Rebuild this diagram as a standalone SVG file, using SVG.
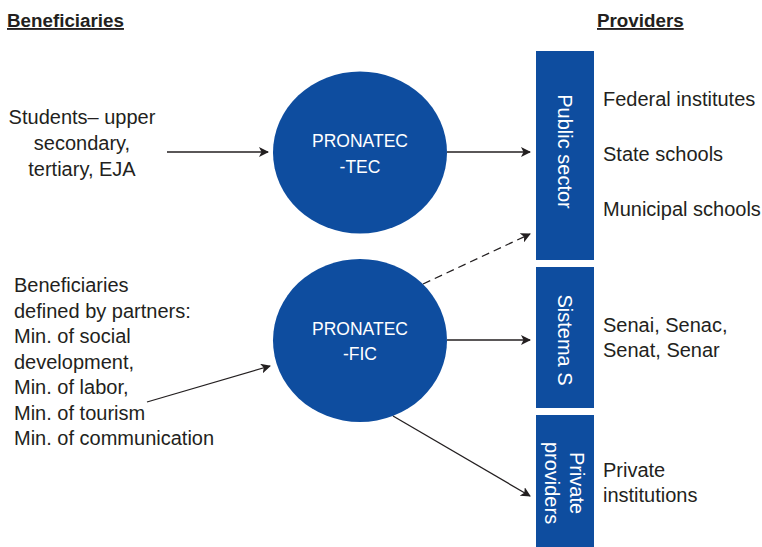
<svg xmlns="http://www.w3.org/2000/svg" width="762" height="547" viewBox="0 0 762 547">
<defs>
<style>
text{font-family:"Liberation Sans",Arial,sans-serif;font-size:20px;fill:#231f20}
.hd{font-weight:bold;text-decoration:underline;font-size:18.8px}
.w{fill:#ffffff}
.cl{font-size:17.5px}
.c{text-anchor:middle}
.node{fill:#0e4d9f}
.ln{stroke:#231f20;stroke-width:1.3;fill:none}
.dash{stroke-dasharray:8,5}
</style>
<marker id="ah" viewBox="0 0 10 10" refX="9" refY="5" markerWidth="10" markerHeight="10" markerUnits="userSpaceOnUse" orient="auto">
<path d="M0,0 L10,5 L0,10 L2.5,5 Z" fill="#231f20"/>
</marker>
</defs>
<rect width="762" height="547" fill="#ffffff"/>
<text class="hd" x="7" y="27">Beneficiaries</text>
<text class="hd" x="597" y="27">Providers</text>
<g id="students">
<text class="c" x="82" y="124">Students– upper</text>
<text class="c" x="82" y="150">secondary,</text>
<text class="c" x="82" y="176">tertiary, EJA</text>
</g>
<g id="partners">
<text x="14" y="292">Beneficiaries</text>
<text x="14" y="317.5">defined by partners:</text>
<text x="14" y="343">Min. of social</text>
<text x="14" y="368.5">development,</text>
<text x="14" y="394">Min. of labor,</text>
<text x="14" y="419.5">Min. of tourism</text>
<text x="14" y="445">Min. of communication</text>
</g>
<g id="tec">
<ellipse class="node" cx="360" cy="152.5" rx="87" ry="81"/>
<text class="w c cl" x="360" y="147">PRONATEC</text>
<text class="w c cl" x="360" y="173">-TEC</text>
</g>
<g id="fic">
<ellipse class="node" cx="360" cy="340.5" rx="87" ry="81.5"/>
<text class="w c cl" x="360" y="335">PRONATEC</text>
<text class="w c cl" x="360" y="360">-FIC</text>
</g>
<g id="public">
<rect class="node" x="536" y="51" width="58" height="209"/>
<text class="w c" transform="translate(565,151.5) rotate(90)" y="7">Public sector</text>
<text x="603" y="106">Federal institutes</text>
<text x="603" y="161">State schools</text>
<text x="603" y="216">Municipal schools</text>
</g>
<g id="sistema">
<rect class="node" x="536" y="267" width="58" height="141"/>
<text class="w c" transform="translate(565,340) rotate(90)" y="7">Sistema S</text>
<text x="603" y="332">Senai, Senac,</text>
<text x="603" y="357">Senat, Senar</text>
</g>
<g id="private">
<rect class="node" x="536" y="415" width="58" height="132"/>
<text class="w c" transform="translate(565,483) rotate(90)" y="-5">Private</text>
<text class="w c" transform="translate(565,483) rotate(90)" y="20">providers</text>
<text x="603" y="477">Private</text>
<text x="603" y="502">institutions</text>
</g>
<g id="connectors">
<line class="ln" x1="167" y1="152" x2="268" y2="152" marker-end="url(#ah)"/>
<line class="ln" x1="447" y1="152" x2="530" y2="152" marker-end="url(#ah)"/>
<line class="ln dash" x1="423" y1="284" x2="530" y2="234" marker-end="url(#ah)"/>
<line class="ln" x1="447" y1="340" x2="530" y2="340" marker-end="url(#ah)"/>
<line class="ln" x1="393" y1="416" x2="530" y2="496" marker-end="url(#ah)"/>
<line class="ln" x1="147" y1="402" x2="270" y2="366" marker-end="url(#ah)"/>
</g>
</svg>
